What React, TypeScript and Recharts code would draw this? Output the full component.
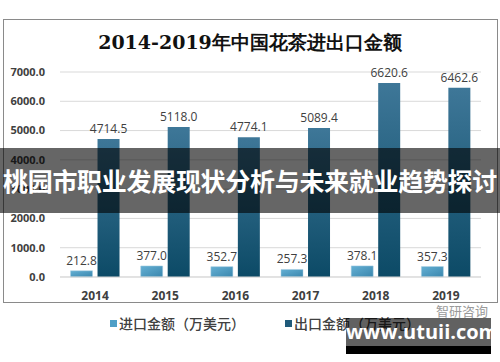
import React from "react"
import {
  BarChart,
  Bar,
  XAxis,
  YAxis,
  CartesianGrid,
  LabelList,
} from "recharts"

// years and amounts (万美元)
const years = ["2014", "2015", "2016", "2017", "2018", "2019"]
const importAmounts = [212.8, 377.0, 352.7, 257.3, 378.1, 357.3]
const exportAmounts = [4714.5, 5118.0, 4774.1, 5089.4, 6620.6, 6462.6]
const yTicks = [0, 1000, 2000, 3000, 4000, 5000, 6000, 7000]

const seriesNames = ["进口金额（万美元）", "出口金额（万美元）"]
const seriesColors = ["#4f9fc6", "#1f5a7a"]

const data = years.map((year, i) => ({
  year,
  imp: importAmounts[i],
  exp: exportAmounts[i],
}))

const fmt = (v: number) => v.toFixed(1)

export default function App() {
  return (
    <div style={{ position: "fixed", left: 0, top: 0, width: 500, height: 362, background: "#fff", overflow: "hidden" }}>
      {/* frame */}
      <div style={{ position: "absolute", left: 3, top: 19, width: 493, height: 282, border: "1px solid #8a8a8a" }} />
      <div
        style={{
          position: "absolute",
          left: 0,
          top: 30,
          width: 500,
          textAlign: "center",
          fontSize: 19,
          fontWeight: "bold",
          fontFamily: "'DejaVu Serif', serif",
          color: "#111",
        }}
      >
        2014-2019年中国花茶进出口金额
      </div>
      <div style={{ position: "absolute", left: 0, top: 0 }}>
        <BarChart
          width={500}
          height={362}
          data={data}
          margin={{ top: 72, right: 19, left: 0, bottom: 55 }}
          barCategoryGap="15%"
          barGap={5}
        >
          <defs>
            <linearGradient id="gImp" x1="0" y1="0" x2="1" y2="1">
              <stop offset="0%" stopColor="#64b0d4" />
              <stop offset="100%" stopColor="#3a86ad" />
            </linearGradient>
            <linearGradient id="gExp" x1="0" y1="0" x2="0" y2="1">
              <stop offset="0%" stopColor="#3e7798" />
              <stop offset="100%" stopColor="#0c4a66" />
            </linearGradient>
          </defs>
          <CartesianGrid vertical={false} stroke="#d9d9d9" />
          <XAxis
            dataKey="year"
            height={30}
            tickLine={false}
            axisLine={{ stroke: "#d9d9d9" }}
            tickMargin={8}
            tick={{ fontSize: 12, fontWeight: "bold", fill: "#404040", fontFamily: "'Open Sans', sans-serif" }}
          />
          <YAxis
            domain={[0, 7000]}
            ticks={yTicks}
            tickFormatter={fmt}
            width={60}
            tickLine={false}
            axisLine={false}
            tickSize={0}
            tickMargin={15}
            interval={0}
            tick={{ fontSize: 11, fontWeight: "bold", fill: "#404040", fontFamily: "'Open Sans', sans-serif" }}
          />
          <Bar dataKey="imp" name={seriesNames[0]} fill="url(#gImp)" stroke="#a9cfe2" strokeWidth={0.5} isAnimationActive={false}>
            <LabelList dataKey="imp" position="top" offset={6} formatter={(v: number) => fmt(v)} style={{ fontSize: 12, fill: "#404040", fontFamily: "'Open Sans', sans-serif" }} />
          </Bar>
          <Bar dataKey="exp" name={seriesNames[1]} fill="url(#gExp)" isAnimationActive={false}>
            <LabelList dataKey="exp" position="top" offset={6} formatter={(v: number) => fmt(v)} style={{ fontSize: 12, fill: "#404040", fontFamily: "'Open Sans', sans-serif" }} />
          </Bar>
        </BarChart>
      </div>
      {/* legend */}
      <div style={{ position: "absolute", left: 0, top: 313, width: 500, display: "flex", justifyContent: "center", gap: 40, paddingLeft: 30, boxSizing: "border-box" }}>
        {seriesNames.map((name, i) => (
          <div key={name} style={{ display: "flex", alignItems: "center", fontSize: 14, fontWeight: 500, color: "#404040", fontFamily: "'Noto Sans CJK SC', sans-serif" }}>
            <span style={{ width: 7, height: 7, background: seriesColors[i], marginRight: 2, display: "inline-block" }} />
            {name}
          </div>
        ))}
      </div>
      {/* overlay banner */}
      <div
        style={{
          position: "absolute",
          left: 0,
          top: 148,
          width: 500,
          height: 65,
          background: "rgba(0,0,0,0.6)",
          color: "#fff",
          fontSize: 25,
          fontWeight: "bold",
          fontFamily: "'Noto Sans CJK SC', sans-serif",
          lineHeight: "65px",
          textAlign: "center",
          whiteSpace: "nowrap",
          letterSpacing: -0.3,
        }}
      >
        桃园市职业发展现状分析与未来就业趋势探讨
      </div>
      {/* watermark */}
      <div style={{ position: "absolute", left: 436, top: 301, fontSize: 13, color: "#9a9a9a", fontFamily: "'Noto Sans CJK SC', sans-serif" }}>
        智研咨询
      </div>
      <div
        style={{
          position: "absolute",
          left: 346,
          top: 318,
          width: 145,
          height: 28,
          background: "rgba(0,0,0,0.62)",
          color: "#fff",
          fontSize: 20,
          fontWeight: "bold",
          fontFamily: "'Open Sans', sans-serif",
          lineHeight: "28px",
          textAlign: "center",
        }}
      >
        www.utuii.com
      </div>
      <div style={{ position: "absolute", left: 346, top: 346, width: 145, height: 8, background: "#000" }} />
    </div>
  )
}
